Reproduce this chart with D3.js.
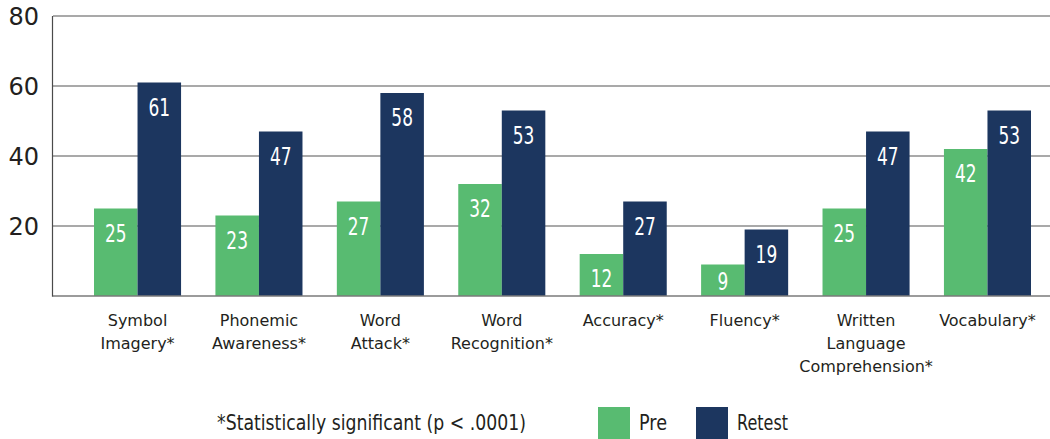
<!DOCTYPE html>
<html>
<head>
<meta charset="utf-8">
<script src="https://cdn.jsdelivr.net/npm/d3@7"></script>
<style>
  html, body { margin: 0; padding: 0; background: #fff; }
  svg { display: block; }
</style>
</head>
<body>
<svg id="chart" width="1050" height="439"></svg>
<script>
const categories = [
  "Symbol\nImagery*",
  "Phonemic\nAwareness*",
  "Word\nAttack*",
  "Word\nRecognition*",
  "Accuracy*",
  "Fluency*",
  "Written\nLanguage\nComprehension*",
  "Vocabulary*"
];
const seriesNames = ["Pre", "Retest"];
const preValues = [25, 23, 27, 32, 12, 9, 25, 42];
const retestValues = [61, 47, 58, 53, 27, 19, 47, 53];
const yTicks = [20, 40, 60, 80];
const footnote = "*Statistically significant (p < .0001)";

const colors = { Pre: "#58bb71", Retest: "#1c365f" };
const textColor = "#231f20";

const svg = d3.select("#chart");
const W = 1050, H = 439;

const y = d3.scaleLinear().domain([0, 80]).range([296, 16]);
const x = d3.scaleBand().domain(categories).range([94, 1031]).paddingInner(0.283).paddingOuter(0);
const xs = d3.scaleBand().domain(seriesNames).range([0, x.bandwidth()]);

const data = categories.map((c, i) => ({ cat: c, Pre: preValues[i], Retest: retestValues[i] }));

// gridlines
const gridG = svg.append("g");
gridG.selectAll("line").data(yTicks).join("line")
  .attr("x1", 53).attr("x2", W)
  .attr("y1", d => y(d)).attr("y2", d => y(d))
  .attr("stroke", "#8c8c8c").attr("stroke-width", 1.5);

// y axis labels via d3 axis
const yAxis = d3.axisLeft(y).tickValues(yTicks).tickSize(0).tickPadding(0);
const yG = svg.append("g").attr("transform", "translate(39,0)").call(yAxis);
yG.select(".domain").remove();
yG.selectAll("text")
  .attr("font-family", "'DejaVu Sans', sans-serif")
  .attr("font-size", 24)
  .attr("fill", textColor)
  .attr("dy", "0.36em");

// bars
const groups = svg.append("g").selectAll("g").data(data).join("g")
  .attr("transform", d => `translate(${x(d.cat)},0)`);

groups.selectAll("rect").data(d => seriesNames.map(s => ({ s, v: d[s] }))).join("rect")
  .attr("x", d => xs(d.s))
  .attr("width", xs.bandwidth())
  .attr("y", d => y(d.v))
  .attr("height", d => y(0) - y(d.v))
  .attr("fill", d => colors[d.s]);

groups.selectAll("text.val").data(d => seriesNames.map(s => ({ s, v: d[s] }))).join("text")
  .attr("class", "val")
  .attr("transform", d => {
    const cx = xs(d.s) + xs.bandwidth() / 2;
    const by = Math.min(y(d.v) + 33, y(0) - 6);
    return `translate(${cx},${by}) scale(0.68,1)`;
  })
  .attr("text-anchor", "middle")
  .attr("font-family", "'DejaVu Sans', sans-serif")
  .attr("font-size", 25)
  .attr("fill", "#ffffff")
  .text(d => d.v);

// axes lines
svg.append("line")
  .attr("x1", 53).attr("x2", W).attr("y1", y(0)).attr("y2", y(0))
  .attr("stroke", "#7a7a7a").attr("stroke-width", 1.5);
svg.append("line")
  .attr("x1", 52.5).attr("x2", 52.5).attr("y1", y(80)).attr("y2", y(0) + 0.75)
  .attr("stroke", "#4a4a4a").attr("stroke-width", 1.2);

// category labels
const catG = svg.append("g");
categories.forEach(c => {
  const lines = c.split("\n");
  const t = catG.append("text")
    .attr("x", x(c) + x.bandwidth() / 2)
    .attr("y", 326)
    .attr("text-anchor", "middle")
    .attr("font-family", "'DejaVu Sans', sans-serif")
    .attr("font-size", 16)
    .attr("fill", textColor);
  lines.forEach((ln, i) => {
    t.append("tspan").attr("x", x(c) + x.bandwidth() / 2).attr("dy", i === 0 ? 0 : 23).text(ln);
  });
});

// legend
const legFont = "'DejaVu Sans', sans-serif";
svg.append("text")
  .attr("x", 217).attr("y", 430)
  .attr("font-family", legFont).attr("font-size", 22)
  .attr("fill", textColor)
  .attr("textLength", 309).attr("lengthAdjust", "spacingAndGlyphs")
  .text(footnote);

const legendPos = { Pre: 598, Retest: 696 };
const legendTextLen = { Pre: 28, Retest: 51 };
seriesNames.forEach(s => {
  svg.append("rect").attr("x", legendPos[s]).attr("y", 407).attr("width", 32).attr("height", 32)
    .attr("fill", colors[s]);
  svg.append("text").attr("x", legendPos[s] + 41).attr("y", 430)
    .attr("font-family", legFont).attr("font-size", 22).attr("fill", textColor)
    .attr("textLength", legendTextLen[s]).attr("lengthAdjust", "spacingAndGlyphs")
    .text(s);
});
</script>
</body>
</html>
